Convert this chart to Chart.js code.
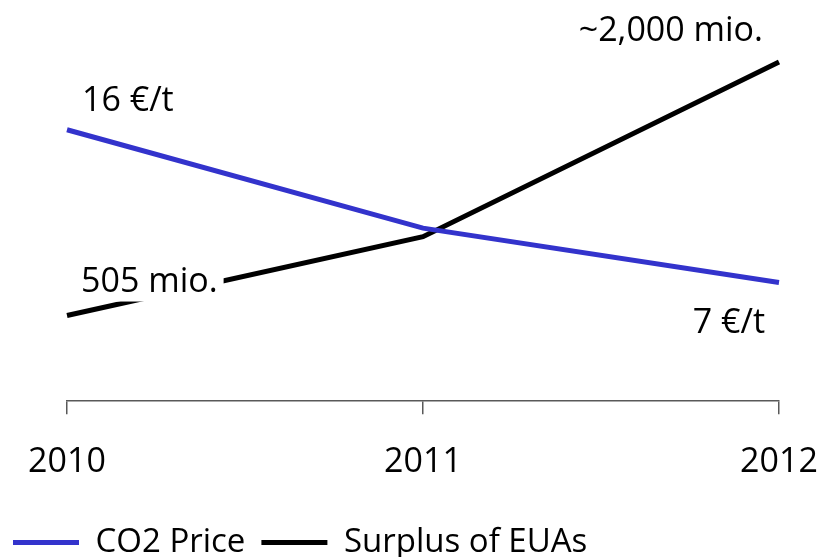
<!DOCTYPE html>
<html>
<head>
    <title>CO2 Price vs Surplus of EUAs</title>
    <script src="https://cdn.jsdelivr.net/npm/chart.js"></script>
    <style>
        html, body { margin: 0; padding: 0; background: #fff; }
        #wrap { width: 821px; height: 557px; }
    </style>
</head>
<body>
    <div id="wrap"><canvas id="plot"></canvas></div>

    <script>
        // chart data
        const years = ['2010', '2011', '2012'];
        const co2Price = [16, 10.2, 7];        // EUR per tonne
        const surplusEUAs = [505, 970, 2000];  // million allowances
        const priceLabels = ['16 €/t', '', '7 €/t'];
        const surplusLabels = ['505 mio.', '', '~2,000 mio.'];

        const textFont = { family: '"Open Sans", sans-serif', size: 34 };
        const legendFont = { family: '"Open Sans", sans-serif', size: 33 };

        // draws the value labels next to the end points
        const valueLabels = {
            id: 'valueLabels',
            afterDatasetsDraw(chart) {
                const ctx = chart.ctx;
                const p = chart.getDatasetMeta(0).data;
                const s = chart.getDatasetMeta(1).data;
                ctx.save();
                ctx.font = textFont.size + 'px ' + textFont.family;
                ctx.textBaseline = 'alphabetic';
                ctx.fillStyle = '#000';

                // 16 €/t
                ctx.textAlign = 'left';
                ctx.fillText(priceLabels[0], p[0].x + 15, p[0].y - 19);

                // 505 mio. with white box behind it
                const w = ctx.measureText(surplusLabels[0]).width;
                ctx.fillStyle = '#fff';
                ctx.fillRect(s[0].x + 11, s[0].y - 56, w + 9, 42);
                ctx.fillStyle = '#000';
                ctx.fillText(surplusLabels[0], s[0].x + 14, s[0].y - 24);

                // right side labels
                ctx.textAlign = 'right';
                ctx.fillText(surplusLabels[2], s[2].x - 16, s[2].y - 21);
                ctx.fillText(priceLabels[2], p[2].x - 14, p[2].y + 51);
                ctx.restore();
            }
        };

        const ctx = document.getElementById('plot').getContext('2d');
        const chart = new Chart(ctx, {
            type: 'line',
            data: {
                labels: years,
                datasets: [{
                    label: 'CO2 Price',
                    data: co2Price,
                    borderColor: '#3333CC',
                    backgroundColor: '#3333CC',
                    borderWidth: 5,
                    pointRadius: 0,
                    tension: 0,
                    clip: false,
                    yAxisID: 'y'
                }, {
                    label: 'Surplus of EUAs',
                    data: surplusEUAs,
                    borderColor: '#000000',
                    backgroundColor: '#000000',
                    borderWidth: 5,
                    pointRadius: 0,
                    tension: 0,
                    clip: false,
                    yAxisID: 'y2'
                }]
            },
            options: {
                responsive: true,
                maintainAspectRatio: false,
                animation: false,
                layout: { padding: { top: 28, bottom: -12, left: -3, right: 0 } },
                plugins: {
                    tooltip: { enabled: false },
                    legend: {
                        position: 'bottom',
                        align: 'start',
                        labels: {
                            color: '#000',
                            font: legendFont,
                            boxWidth: 66,
                            boxHeight: 5,
                            padding: 16,
                            generateLabels(c) {
                                return c.data.datasets.map((d, i) => ({
                                    text: d.label,
                                    fillStyle: d.borderColor,
                                    strokeStyle: d.borderColor,
                                    lineWidth: 0,
                                    fontColor: '#000',
                                    datasetIndex: i
                                }));
                            }
                        }
                    }
                },
                scales: {
                    x: {
                        offset: false,
                        grid: {
                            display: true,
                            drawOnChartArea: false,
                            drawTicks: true,
                            tickLength: 13,
                            color: '#595959',
                            lineWidth: 1.5
                        },
                        border: { display: true, color: '#595959', width: 1.5 },
                        ticks: {
                            color: '#000',
                            font: textFont,
                            padding: 28,
                            maxRotation: 0
                        },
                        afterFit(axis) {
                            axis.paddingLeft = 0;
                            axis.paddingRight = 0;
                            axis.height -= 1;
                        }
                    },
                    y: {
                        position: 'left',
                        min: 0,
                        max: 22,
                        grid: { display: false },
                        border: { display: false },
                        ticks: { display: false },
                        afterFit(axis) { axis.width = 70; }
                    },
                    y2: {
                        position: 'right',
                        min: 0,
                        max: 2200,
                        grid: { display: false },
                        border: { display: false },
                        ticks: { display: false },
                        afterFit(axis) { axis.width = 42; }
                    }
                }
            },
            plugins: [valueLabels]
        });
    </script>
</body>
</html>
